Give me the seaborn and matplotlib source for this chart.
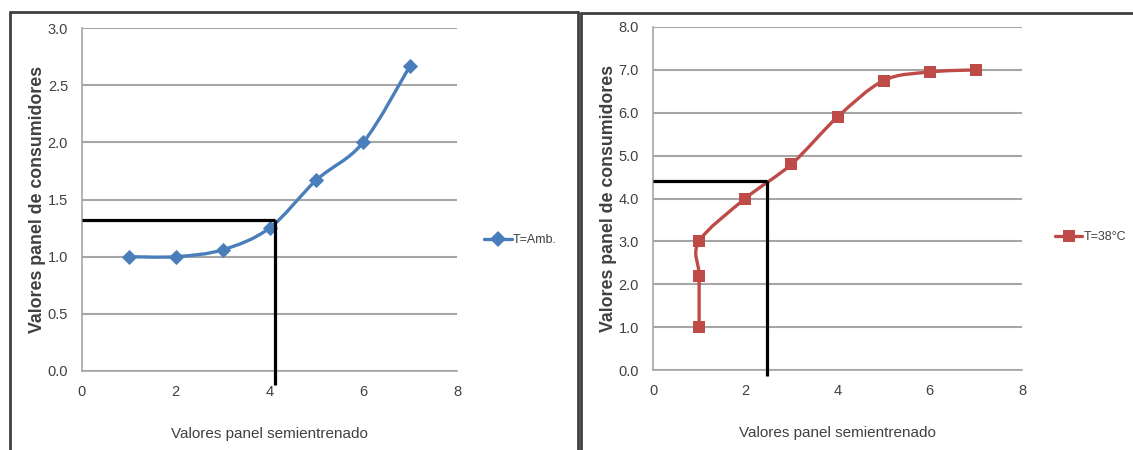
import numpy as np
import pandas as pd
import matplotlib
matplotlib.use("Agg")
import matplotlib.pyplot as plt
from matplotlib.path import Path
from matplotlib.patches import PathPatch
from matplotlib.lines import Line2D
import seaborn as sns

# Data: semi-trained panel scores vs. consumer panel scores
amb_x = [1, 2, 3, 4, 5, 6, 7]
amb_y = [1.0, 1.0, 1.06, 1.25, 1.67, 2.0, 2.67]
hot_x = [1, 1, 1, 2, 3, 4, 5, 6, 7]
hot_y = [1.0, 2.2, 3.0, 4.0, 4.8, 5.9, 6.75, 6.95, 7.0]

amb_label = "T=Amb."
hot_label = "T=38°C"
x_label = "Valores panel semientrenado"
y_label = "Valores panel de consumidores"

# Reading guides (value read on each curve)
amb_guide = (4.12, 1.32)
hot_guide = (2.48, 4.41)

x_ticks = [0, 2, 4, 6, 8]
amb_yticks = [0.0, 0.5, 1.0, 1.5, 2.0, 2.5, 3.0]
hot_yticks = [0.0, 1.0, 2.0, 3.0, 4.0, 5.0, 6.0, 7.0, 8.0]

BLUE = "#4A7EBB"
RED = "#BE4B48"
GRID = "#A6A6A6"
TXT = "#404040"

sns.set_style("white")
plt.rcParams["font.family"] = ["Liberation Sans Narrow", "Liberation Sans", "DejaVu Sans"]

fig = plt.figure(figsize=(11.33, 4.5), dpi=100)
W, H = 1133, 450


def px_axes(l, t, r, b):
    return fig.add_axes([l / W, 1 - b / H, (r - l) / W, (b - t) / H])


def smooth_path(xs, ys):
    pts = np.column_stack([xs, ys]).astype(float)
    n = len(pts)
    verts = [pts[0]]
    codes = [Path.MOVETO]
    for i in range(n - 1):
        p0 = pts[i - 1] if i > 0 else pts[i]
        p1, p2 = pts[i], pts[i + 1]
        p3 = pts[i + 2] if i + 2 < n else pts[i + 1]
        verts += [p1 + (p2 - p0) / 6, p2 - (p3 - p1) / 6, p2]
        codes += [Path.CURVE4] * 3
    return Path(verts, codes)


def style_axes(ax, yticks, fmt):
    ax.set_xlim(0, 8)
    ax.set_ylim(yticks[0], yticks[-1])
    ax.set_xticks(x_ticks)
    ax.set_yticks(yticks)
    ax.set_yticklabels([fmt.format(v) for v in yticks])
    ax.yaxis.grid(True, color=GRID, linewidth=1.5)
    ax.xaxis.grid(False)
    for s in ["top", "right"]:
        ax.spines[s].set_visible(False)
    for s in ["left", "bottom"]:
        ax.spines[s].set_color(GRID)
        ax.spines[s].set_linewidth(1.2)
    ax.tick_params(axis="both", which="major", direction="out", length=4,
                   width=1.2, color=GRID, labelcolor=TXT, labelsize=10.5, pad=6)
    ax.set_xlabel(x_label, fontsize=11, color=TXT, labelpad=20)
    ax.set_ylabel(y_label, fontsize=12.8, color=TXT, fontweight="bold", labelpad=1.5)


def draw_series(ax, xs, ys, color, marker, msize, label, guide, drop, legend_xy):
    df = pd.DataFrame({"x": xs, "y": ys})
    ax.add_patch(PathPatch(smooth_path(xs, ys), facecolor="none",
                           edgecolor=color, linewidth=2.4, zorder=3))
    sns.scatterplot(data=df, x="x", y="y", ax=ax, marker=marker, s=msize,
                    color=color, edgecolor=color, linewidth=0, zorder=4, legend=False)
    gx, gy = guide
    y0, y1 = ax.get_ylim()
    ax.plot([0, gx], [gy, gy], color="black", linewidth=2.3, zorder=5,
            solid_capstyle="butt")
    ax.plot([gx, gx], [gy, y0 - drop * (y1 - y0)],
            color="black", linewidth=2.3, zorder=5, clip_on=False, solid_capstyle="butt")
    handle = Line2D([], [], color=color, linewidth=2.4, marker=marker,
                    markersize=np.sqrt(msize), markeredgewidth=0)
    ax.legend(handles=[handle], labels=[label], loc="center left",
              bbox_to_anchor=legend_xy, frameon=False, fontsize=9,
              handlelength=2.2, handletextpad=0.1, borderpad=0, borderaxespad=0,
              labelcolor=TXT)


ax1 = px_axes(82, 28, 457, 371)
style_axes(ax1, amb_yticks, "{:.1f}")
draw_series(ax1, amb_x, amb_y, BLUE, "D", 60, amb_label, amb_guide, 0.04, (1.072, 0.382))

ax2 = px_axes(653, 27, 1022, 370)
style_axes(ax2, hot_yticks, "{:.1f}")
draw_series(ax2, hot_x, hot_y, RED, "s", 85, hot_label, hot_guide, 0.017, (1.089, 0.388))

# Panel frames
FRAME = "#404040"
for xs, ys in [
    ([10, 10], [460, 12]),
    ([10, 578], [12, 12]),
    ([578, 578], [12, 460]),
    ([581, 581], [460, 13]),
    ([581, 1140], [13, 13]),
]:
    fig.add_artist(Line2D([x / W for x in xs], [1 - y / H for y in ys],
                          color=FRAME, linewidth=2))

fig.savefig("out.png", dpi=100)
